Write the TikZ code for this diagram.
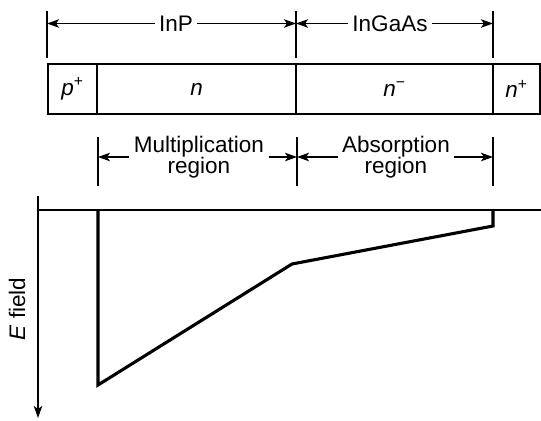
\documentclass[tikz,border=0pt]{standalone}
\usepackage{fontspec}
\setmainfont{Liberation Sans}
\usepackage{tikz}
\usetikzlibrary{arrows.meta,positioning}

\tikzset{
  layer/.style={draw,line width=0.9pt,outer sep=0pt,inner sep=0pt,
    minimum height=1.25cm,font=\fontsize{16}{16}\selectfont\itshape},
  dimtext/.style={inner sep=3pt,align=center},
  dimarrow/.style={line width=0.8pt,-{Stealth[length=8.5pt,width=6pt,inset=2pt]}},
  dimtick/.style={line width=0.8pt},
  field/.style={line width=2.2pt},
}

\begin{document}
\begin{tikzpicture}[x=0.025cm,y=-0.025cm,font=\fontsize{16}{15}\selectfont]
  \useasboundingbox (0,0) rectangle (541,421);
  % layers of the diode
  \node[layer,minimum width=1.225cm] (pp) at (72.5,89) {p\textsuperscript{\upshape +}};
  \node[layer,minimum width=4.975cm,right=0pt of pp] (nn) {n};
  \node[layer,minimum width=4.925cm,right=0pt of nn] (nm) {n\textsuperscript{\upshape −}};
  \node[layer,minimum width=1.175cm,right=0pt of nm] (np) {n\textsuperscript{\upshape +}};

  % materials
  \coordinate (a1) at (47,23.5);
  \coordinate (a2) at (296,23.5);
  \coordinate (a3) at (493,23.5);
  \foreach \c in {a1,a2,a3}
    \draw[dimtick] (\c) ++(0,-12.5) -- ++(0,47);
  \node[dimtext] (inp) at (176,23.5) {InP};
  \node[dimtext] (ingaas) at (390,23.5) {InGaAs};
  \draw[dimarrow] (inp) -- (a1);
  \draw[dimarrow] (inp) -- (a2);
  \draw[dimarrow] (ingaas) -- (a2);
  \draw[dimarrow] (ingaas) -- (a3);

  % regions
  \coordinate (b1) at (98,157);
  \coordinate (b2) at (297,157);
  \coordinate (b3) at (493,157);
  \foreach \c in {b1,b2,b3}
    \draw[dimtick] (\c) ++(0,-20) -- ++(0,49);
  \node[dimtext] (mult) at (199,157) {Multiplication\\region};
  \node[dimtext] (absn) at (396,157) {Absorption\\region};
  \draw[dimarrow] (mult) -- (b1);
  \draw[dimarrow] (mult) -- (b2);
  \draw[dimarrow] (absn) -- (b2);
  \draw[dimarrow] (absn) -- (b3);

  % field profile
  \coordinate (o) at (38,210);
  \coordinate (ytop) at (38,196);
  \coordinate (yend) at (38,418);
  \coordinate (xend) at (541,210);
  \draw[dimtick] (o) -- (xend);
  \draw[dimarrow] (ytop) -- (yend);
  \draw[field] (98,210) -- (98,385) -- (292,264) -- (493,226) -- (493,210);
  \node[rotate=90] (elab) at (17,309) {\textit{E} field};
\end{tikzpicture}
\end{document}
